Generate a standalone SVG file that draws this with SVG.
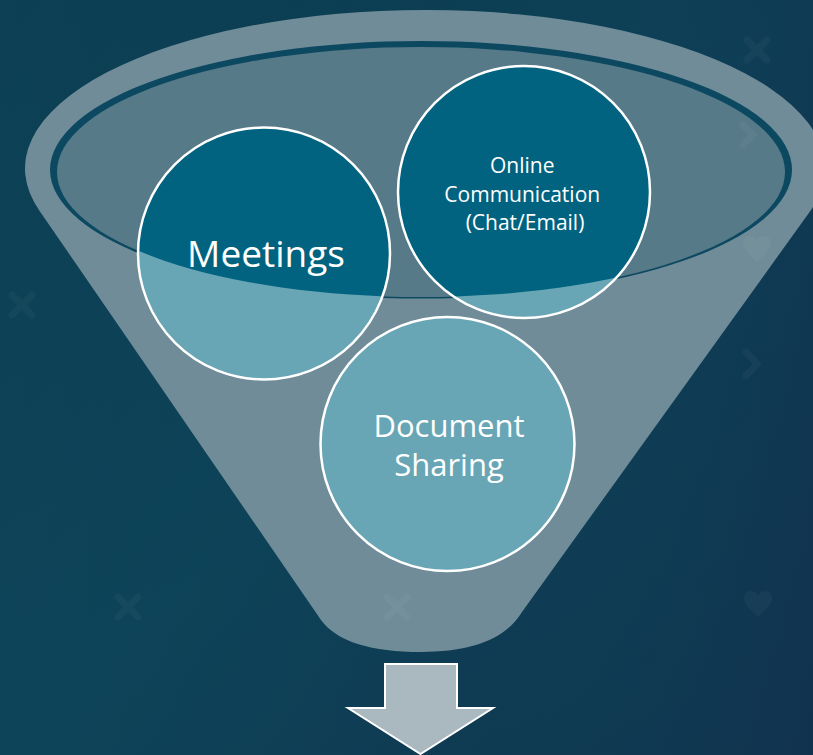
<svg xmlns="http://www.w3.org/2000/svg" width="813" height="755" viewBox="0 0 813 755">
  <defs>
    <linearGradient id="bg" x1="0" y1="0" x2="1" y2="1">
      <stop offset="0" stop-color="#0b3a4f"/>
      <stop offset="0.5" stop-color="#0d4157"/>
      <stop offset="1" stop-color="#10354f"/>
    </linearGradient>
    <linearGradient id="bgH" x1="0" y1="0" x2="1" y2="0">
      <stop offset="0" stop-color="#0f4a5e" stop-opacity="0.35"/>
      <stop offset="0.6" stop-color="#0f4a5e" stop-opacity="0"/>
      <stop offset="1" stop-color="#142c4f" stop-opacity="0.3"/>
    </linearGradient>
    <clipPath id="surface">
      <ellipse cx="421" cy="172" rx="364" ry="125"/>
    </clipPath>
    <style>
      .deco { fill: #ffffff; opacity: 0.035; }
      .decoStroke { stroke: #ffffff; opacity: 0.035; stroke-width: 7; stroke-linecap: round; fill: none; }
      .circleLight { fill: #68a5b5; }
      .circleDark { fill: #01637f; }
      .circleEdge { fill: none; stroke: #ffffff; stroke-width: 2.5; }
      .label { fill: #ffffff; font-family: "Open Sans", "Noto Sans", "Liberation Sans", sans-serif; text-anchor: middle; }
    </style>
  </defs>

  <!-- background -->
  <rect x="0" y="0" width="813" height="755" fill="url(#bg)"/>
  <rect x="0" y="0" width="813" height="755" fill="url(#bgH)"/>

  <!-- funnel body -->
  <g id="funnel">
    <path d="M 39.6 210.9 A 400 158.5 0 1 1 809.6 212 L 522 612 C 505 640 470 652 421 652 C 372 652 337 642 321 620 Z" fill="#6f8c98"/>
    <ellipse cx="421" cy="169.75" rx="371" ry="128.75" fill="#0c4961"/>
    <ellipse cx="421" cy="172" rx="364" ry="125" fill="#577a89"/>
  </g>

  <!-- faint background decorations -->
  <g id="decorations">
    <path class="decoStroke" d="M 747 40 L 767 60 M 767 40 L 747 60"/>
    <path class="decoStroke" d="M 12 295 L 32 315 M 32 295 L 12 315"/>
    <path class="decoStroke" d="M 118 597 L 138 617 M 138 597 L 118 617"/>
    <path class="decoStroke" d="M 387 597 L 407 617 M 407 597 L 387 617"/>
    <path class="decoStroke" d="M 743 125 L 753 135 L 743 145"/>
    <path class="decoStroke" d="M 746 352 L 757 364 L 746 376"/>
    <path class="deco" d="M 757 262 C 750 255 743 250 743 243 C 743 236 751 233 757 240 C 763 233 771 236 771 243 C 771 250 764 255 757 262 Z"/>
    <path class="deco" d="M 758 617 C 751 610 744 605 744 598 C 744 591 752 588 758 595 C 764 588 772 591 772 598 C 772 605 765 610 758 617 Z"/>
  </g>

  <!-- Meetings -->
  <g id="meetings">
    <circle class="circleLight" cx="264" cy="253.5" r="126"/>
    <circle class="circleDark" cx="264" cy="253.5" r="126" clip-path="url(#surface)"/>
    <circle class="circleEdge" cx="264" cy="253.5" r="126"/>
    <text class="label" x="266" y="267" font-size="37">Meetings</text>
  </g>

  <!-- Online Communication -->
  <g id="online-communication">
    <circle class="circleLight" cx="524" cy="192" r="126"/>
    <circle class="circleDark" cx="524" cy="192" r="126" clip-path="url(#surface)"/>
    <circle class="circleEdge" cx="524" cy="192" r="126"/>
    <text class="label" font-size="21">
      <tspan x="525" y="173">Online</tspan>
      <tspan x="525" y="202">Communication</tspan>
      <tspan x="525" y="230">(Chat/Email)</tspan>
    </text>
  </g>

  <!-- Document Sharing -->
  <g id="document-sharing">
    <circle class="circleLight" cx="447.5" cy="444" r="127"/>
    <circle class="circleDark" cx="447.5" cy="444" r="127" clip-path="url(#surface)"/>
    <circle class="circleEdge" cx="447.5" cy="444" r="127"/>
    <text class="label" x="449" y="437" font-size="31">Document</text>
    <text class="label" x="449" y="476" font-size="31">Sharing</text>
  </g>

  <!-- output arrow -->
  <g id="connectors">
    <path d="M 385 664 L 457 664 L 457 708 L 493 708 L 420.5 754 L 348 708 L 385 708 Z" fill="#aab8bf" stroke="#ffffff" stroke-width="2" stroke-linejoin="miter"/>
  </g>
</svg>
